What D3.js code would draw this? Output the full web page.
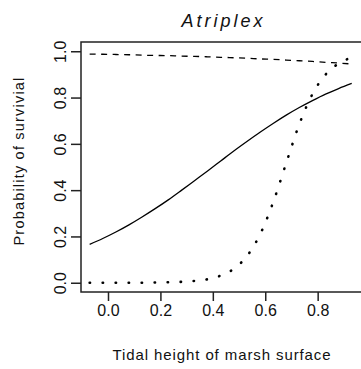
<!DOCTYPE html>
<html>
<head>
<meta charset="utf-8">
<script src="https://cdn.jsdelivr.net/npm/d3@7"></script>
<style>
    body { margin: 0; background: #fff; }
    svg { display: block; font-family: "Liberation Sans", Arial, sans-serif; }
</style>
</head>
<body>
<div id="chart"></div>
<script>
// tidal height (x) shared by all three curves
const heights = [-0.07, -0.02, 0.03, 0.08, 0.13, 0.18, 0.23, 0.28, 0.33, 0.38, 0.43,
    0.48, 0.53, 0.58, 0.63, 0.68, 0.73, 0.78, 0.83, 0.88, 0.93];

// solid line
const survivalSolid = [0.166, 0.191, 0.219, 0.250, 0.284, 0.320, 0.358, 0.399, 0.441, 0.483, 0.526,
    0.569, 0.610, 0.650, 0.688, 0.724, 0.757, 0.787, 0.815, 0.839, 0.861];

// dashed line
const survivalDashed = [0.988, 0.987, 0.986, 0.985, 0.983, 0.982, 0.981, 0.979, 0.978, 0.976, 0.974,
    0.972, 0.970, 0.967, 0.965, 0.962, 0.959, 0.956, 0.952, 0.949, 0.945];

// dotted line
const survivalDotted = [0.000, 0.000, 0.000, 0.000, 0.000, 0.001, 0.002, 0.004, 0.008, 0.015, 0.031,
    0.060, 0.115, 0.208, 0.347, 0.517, 0.685, 0.815, 0.899, 0.947, 0.973];

const xTicks = [0.0, 0.2, 0.4, 0.6, 0.8];
const yTicks = [0.0, 0.2, 0.4, 0.6, 0.8, 1.0];

const title = "Atriplex";
const xLabel = "Tidal height of marsh surface";
const yLabel = "Probability of survivial";

const width = 361, height = 369;
const margin = { top: 42, right: -2, bottom: 77, left: 81 };

const svg = d3.select("#chart")
    .append("svg")
    .attr("width", width)
    .attr("height", height);

svg.append("rect")
    .attr("width", width)
    .attr("height", height)
    .attr("fill", "#fff");

const x = d3.scaleLinear()
    .domain([-0.103, 0.973])
    .range([margin.left, width - margin.right]);

const y = d3.scaleLinear()
    .domain([-0.04, 1.04])
    .range([height - margin.bottom, margin.top]);

// curves
const series = [
    { values: survivalSolid, dash: null, sw: 1.3, cap: "butt" },
    { values: survivalDashed, dash: "6,5.5", sw: 1.3, cap: "butt" },
    { values: survivalDotted, dash: "0.4,12.6", sw: 2.6, cap: "round" }
];

const line = d3.line()
    .x(d => x(d[0]))
    .y(d => y(d[1]))
    .curve(d3.curveMonotoneX);

series.forEach(s => {
    svg.append("path")
        .datum(heights.map((h, i) => [h, s.values[i]]))
        .attr("d", line)
        .attr("fill", "none")
        .attr("stroke", "#000")
        .attr("stroke-width", s.sw)
        .attr("stroke-linecap", s.cap)
        .attr("stroke-dasharray", s.dash);
});

// box
svg.append("rect")
    .attr("x", x.range()[0])
    .attr("y", y.range()[1])
    .attr("width", x.range()[1] - x.range()[0])
    .attr("height", y.range()[0] - y.range()[1])
    .attr("fill", "none")
    .attr("stroke", "#222")
    .attr("stroke-width", 1.5);

// x axis
const xAxis = svg.append("g")
    .attr("transform", `translate(0,${y.range()[0]})`)
    .call(d3.axisBottom(x).tickValues(xTicks).tickFormat(d3.format(".1f"))
        .tickSize(9).tickPadding(4));
xAxis.select(".domain").remove();
xAxis.selectAll("line").attr("stroke", "#222").attr("stroke-width", 1.5);
xAxis.selectAll("text")
    .attr("font-size", 16)
    .attr("font-family", "Liberation Sans, Arial, sans-serif")
    .attr("fill", "#111");

// y axis, labels turned like R's las = 0
const yAxis = svg.append("g")
    .attr("transform", `translate(${x.range()[0]},0)`)
    .call(d3.axisLeft(y).tickValues(yTicks).tickFormat(d3.format(".1f"))
        .tickSize(10).tickPadding(0));
yAxis.select(".domain").remove();
yAxis.selectAll("line").attr("stroke", "#222").attr("stroke-width", 1.5);
yAxis.selectAll("text")
    .attr("x", null)
    .attr("dy", null)
    .attr("transform", "translate(-15.5,0) rotate(-90)")
    .attr("text-anchor", "middle")
    .attr("font-size", 16)
    .attr("font-family", "Liberation Sans, Arial, sans-serif")
    .attr("fill", "#111");

// titles
const midX = (x.range()[0] + x.range()[1]) / 2;
const midY = (y.range()[0] + y.range()[1]) / 2;

svg.append("text")
    .attr("x", midX + 1.5)
    .attr("y", 27)
    .attr("text-anchor", "middle")
    .attr("font-size", 18)
    .attr("font-style", "italic")
    .attr("letter-spacing", 3)
    .attr("fill", "#111")
    .text(title);

svg.append("text")
    .attr("x", 222)
    .attr("y", 360)
    .attr("text-anchor", "middle")
    .attr("font-size", 15)
    .attr("letter-spacing", 0.9)
    .attr("fill", "#111")
    .text(xLabel);

svg.append("text")
    .attr("transform", `translate(23.5,${midY - 6}) rotate(-90)`)
    .attr("text-anchor", "middle")
    .attr("font-size", 14.5)
    .attr("letter-spacing", 1.2)
    .attr("fill", "#111")
    .text(yLabel);
</script>
</body>
</html>
